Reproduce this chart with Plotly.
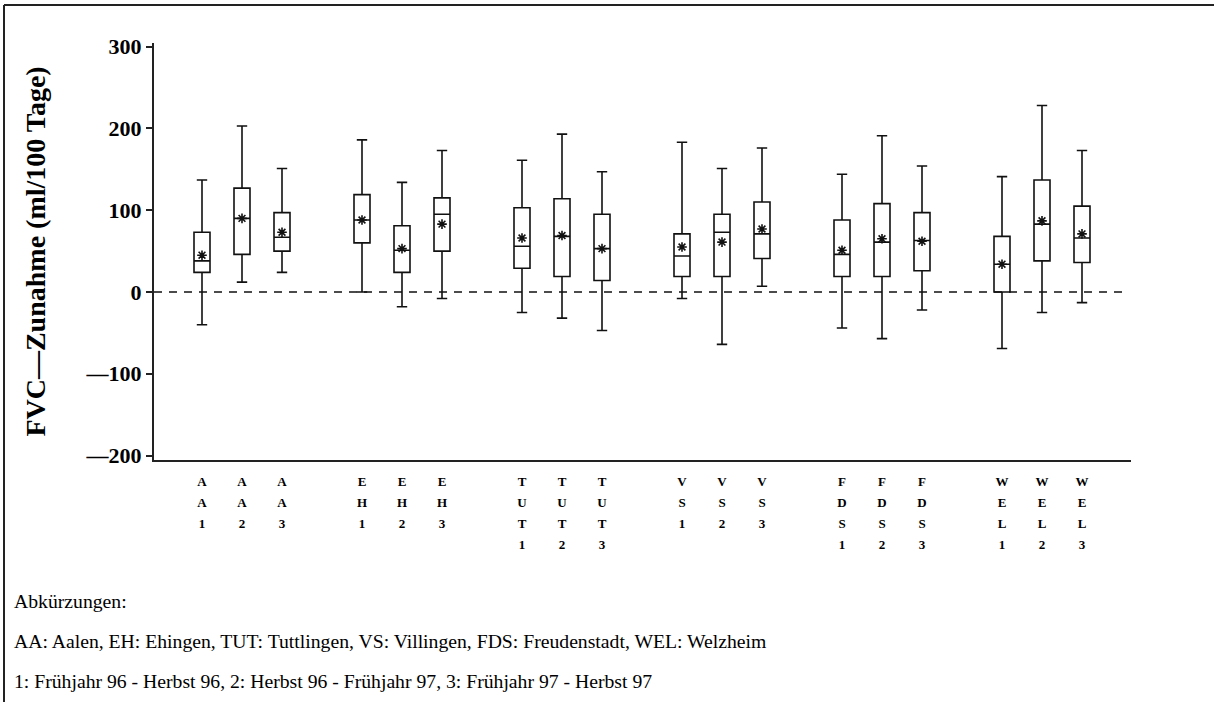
import plotly.graph_objects as go

# Stations x period (1: Frühjahr 96 - Herbst 96, 2: Herbst 96 - Frühjahr 97, 3: Frühjahr 97 - Herbst 97)
groups = ["AA1", "AA2", "AA3", "EH1", "EH2", "EH3", "TUT1", "TUT2", "TUT3",
          "VS1", "VS2", "VS3", "FDS1", "FDS2", "FDS3", "WEL1", "WEL2", "WEL3"]
slots = [1, 2, 3, 5, 6, 7, 9, 10, 11, 13, 14, 15, 17, 18, 19, 21, 22, 23]

# FVC increase, ml per 100 days
lower = [-40, 12, 24, 0, -18, -8, -25, -32, -47, -8, -64, 7, -44, -57, -22, -69, -25, -13]
q1 = [24, 46, 50, 60, 24, 50, 29, 19, 14, 19, 19, 41, 19, 19, 26, 0, 38, 36]
median = [38, 90, 67, 88, 51, 95, 56, 68, 53, 44, 73, 71, 46, 61, 63, 34, 83, 66]
q3 = [73, 127, 97, 119, 81, 115, 103, 114, 95, 71, 95, 110, 88, 108, 97, 68, 137, 105]
upper = [137, 203, 151, 186, 134, 173, 161, 193, 147, 183, 151, 176, 144, 191, 154, 141, 228, 173]
mean = [45, 90, 73, 88, 53, 83, 66, 69, 53, 55, 61, 77, 51, 65, 62, 34, 87, 71]

y_ticks = [300, 200, 100, 0, -100, -200]
y_ticktext = ["300", "200", "100", "0", "\u2014100", "\u2014200"]

notes = [
    "Abkürzungen:",
    "AA: Aalen, EH: Ehingen, TUT: Tuttlingen, VS: Villingen, FDS: Freudenstadt, WEL: Welzheim",
    "1: Frühjahr 96 - Herbst 96, 2: Herbst 96 - Frühjahr 97, 3: Frühjahr 97 - Herbst 97",
]


def stacked(label):
    return "<br>".join('<span style="font-size:13px;font-weight:bold">%s</span>' % c for c in label)


fig = go.Figure()
fig.add_trace(go.Box(
    x=slots, q1=q1, median=median, q3=q3,
    lowerfence=lower, upperfence=upper,
    width=0.4, whiskerwidth=0.65,
    fillcolor="white", line=dict(color="#111", width=1.6),
    boxpoints=False, showlegend=False,
))
fig.add_trace(go.Scatter(
    x=slots, y=mean, mode="markers",
    marker=dict(symbol="asterisk-open", size=8, color="#111",
                line=dict(color="#111", width=1.6)),
    showlegend=False,
))

W, H = 1214, 702
L, R, T, B = 154, 83, 43, 242
pw = W - L - R
ph = H - T - B

# zero reference line
fig.add_shape(type="line", xref="paper", yref="y", x0=0, x1=(1125 - L) / pw, y0=0, y1=0,
              line=dict(color="#111", width=1.6, dash="8px,7px"))

# outer frame (left and top edges)
fx = (4 - L) / pw
fy = 1 + (T - 5) / ph
fig.add_shape(type="line", xref="paper", yref="paper", x0=fx, x1=(W + 5 - L) / pw, y0=fy, y1=fy,
              line=dict(color="#222", width=2))
fig.add_shape(type="line", xref="paper", yref="paper", x0=fx, x1=fx, y0=fy, y1=-(B + 5) / ph,
              line=dict(color="#222", width=2))

for i, line in enumerate(notes):
    fig.add_annotation(xref="paper", yref="paper", x=(12 - L) / pw, y=-(601 + 40 * i - (H - B)) / ph,
                       text=line, showarrow=False, xanchor="left", yanchor="middle",
                       font=dict(family="Liberation Serif, serif", size=19.7, color="black"))

fig.update_layout(
    width=W, height=H,
    margin=dict(l=L, r=R, t=T, b=B, autoexpand=False),
    paper_bgcolor="white", plot_bgcolor="white",
    xaxis=dict(
        range=[-0.2, 24.225], tickmode="array", tickvals=slots,
        ticktext=[stacked(g) for g in groups],
        tickfont=dict(family="Liberation Serif, serif", size=16, color="black", weight="bold"),
        ticks="", ticklabelstandoff=5, showgrid=False, zeroline=False,
        showline=True, linecolor="#222", linewidth=2,
    ),
    yaxis=dict(
        range=[-205.4, 304.4], tickmode="array", tickvals=y_ticks, ticktext=y_ticktext,
        tickfont=dict(family="Liberation Serif, serif", size=22, color="black", weight="bold"),
        ticks="outside", ticklen=6, tickwidth=2, tickcolor="#222",
        showgrid=False, zeroline=False,
        showline=True, linecolor="#222", linewidth=2,
        title=dict(text="FVC\u2014Zunahme (ml/100 Tage)", standoff=32,
                   font=dict(family="Liberation Serif, serif", size=28, color="black", weight="bold")),
    ),
)

fig.write_html("out.html")
